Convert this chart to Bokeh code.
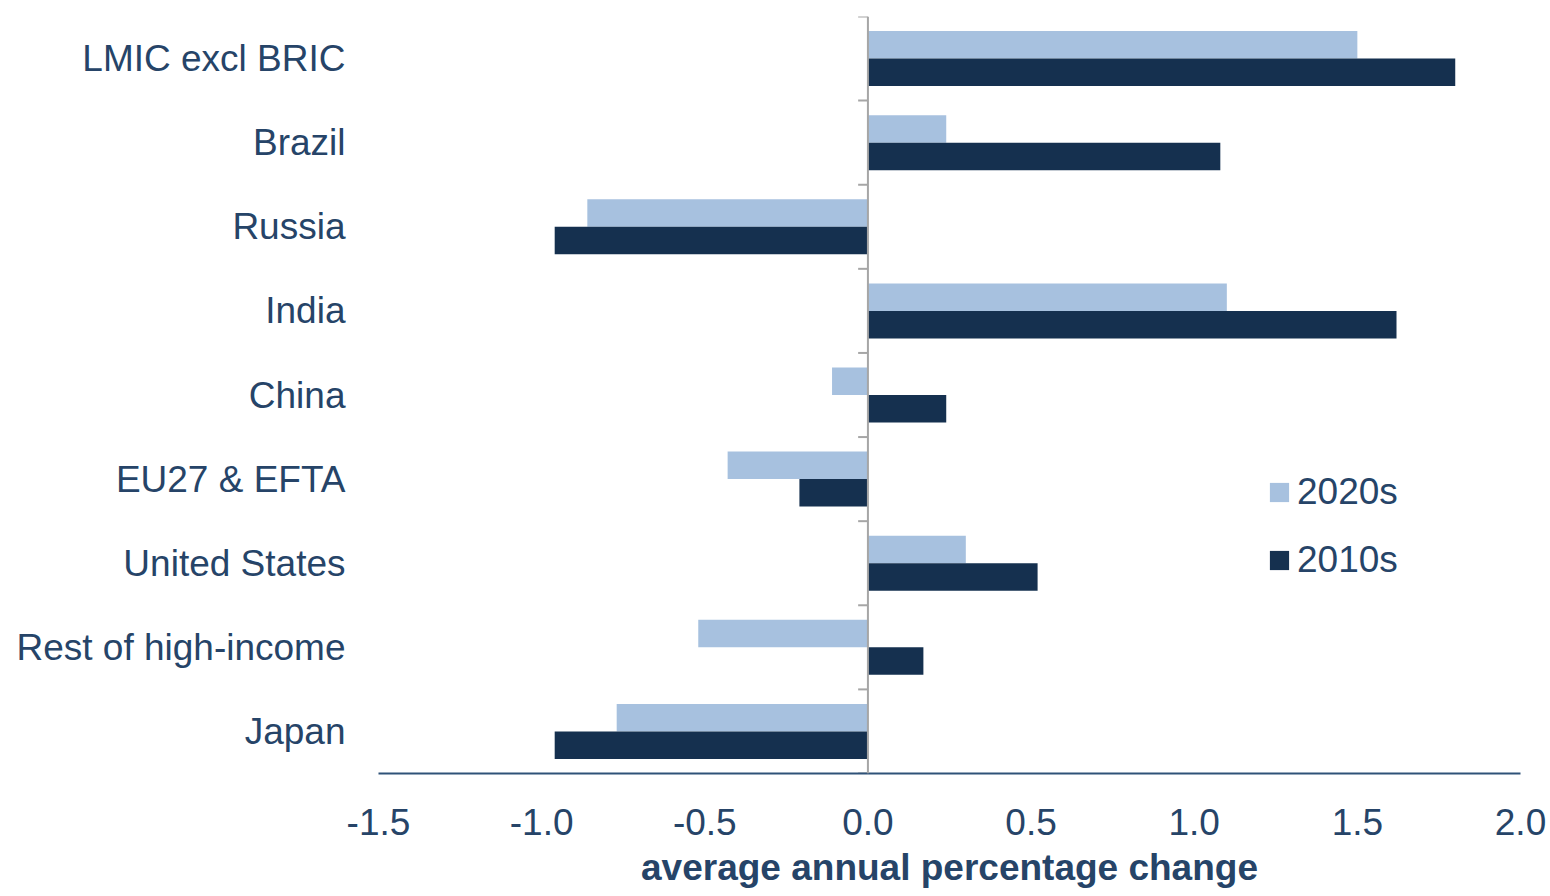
from bokeh.plotting import figure
from bokeh.models import (Range1d, FixedTicker, Span, Legend, LegendItem, ColumnDataSource, Title)
from bokeh.embed import file_html
from bokeh.resources import INLINE

categories = ["LMIC excl BRIC", "Brazil", "Russia", "India", "China",
              "EU27 & EFTA", "United States", "Rest of high-income", "Japan"]
values_2020s = [1.50, 0.24, -0.86, 1.10, -0.11, -0.43, 0.30, -0.52, -0.77]
values_2010s = [1.80, 1.08, -0.96, 1.62, 0.24, -0.21, 0.52, 0.17, -0.96]
x_ticks = [-1.5, -1.0, -0.5, 0.0, 0.5, 1.0, 1.5, 2.0]
series_names = ["2020s", "2010s"]
x_title = "average annual percentage change"

LIGHT = "#A7C1DF"
DARK = "#15304F"
TEXT = "#264468"
AXIS = "#2F5278"
FONT = "Liberation Sans"
FS = "37px"

n = len(categories)
centers = [n - 1 - i + 0.5 for i in range(n)]
bar_h = 0.327

src = ColumnDataSource(dict(
    cat=categories,
    y20=[c + bar_h / 2 for c in centers],
    y10=[c - bar_h / 2 for c in centers],
    v20=values_2020s,
    v10=values_2010s,
))

W, H = 1550, 896
p = figure(width=W, height=H, output_backend="svg", toolbar_location=None,
           x_range=Range1d(x_ticks[0], x_ticks[-1]), y_range=Range1d(0, n),
           min_border_left=378, min_border_right=30,
           min_border_top=16, min_border_bottom=123)
p.outline_line_color = None
p.grid.visible = False
p.background_fill_color = "white"
p.border_fill_color = "white"

r20 = p.hbar(y="y20", left=0, right="v20", height=bar_h, source=src,
             fill_color=LIGHT, line_color=None)
r10 = p.hbar(y="y10", left=0, right="v10", height=bar_h, source=src,
             fill_color=DARK, line_color=None)

# zero axis with tick marks at category boundaries
p.add_layout(Span(location=0, dimension="height", line_color="#A6A6A6", line_width=2))
tick_len = 0.03
bounds = list(range(n + 1))
p.segment(x0=[-tick_len] * len(bounds), x1=[0] * len(bounds), y0=bounds, y1=bounds,
          line_color="#A6A6A6", line_width=2)

# y axis: labels only
ya = p.yaxis[0]
ya.ticker = FixedTicker(ticks=centers)
ya.major_label_overrides = {c: lab for c, lab in zip(centers, categories)}
ya.axis_line_color = None
ya.major_tick_line_color = None
ya.minor_tick_line_color = None
ya.major_label_standoff = 27
ya.major_label_text_font = FONT
ya.major_label_text_font_size = FS
ya.major_label_text_color = TEXT

# x axis
xa = p.xaxis[0]
xa.ticker = FixedTicker(ticks=x_ticks)
xa.major_label_overrides = {t: f"{t:.1f}" for t in x_ticks}
xa.axis_line_color = AXIS
xa.axis_line_width = 2
xa.major_tick_line_color = None
xa.minor_tick_line_color = None
xa.major_label_standoff = 29
xa.major_label_text_font = FONT
xa.major_label_text_font_size = FS
xa.major_label_text_color = TEXT

# axis title as a title panel below the axis
p.add_layout(Title(text=x_title, align="center", text_font=FONT, text_font_size=FS,
                   text_font_style="bold", text_color=TEXT, standoff=15, offset=0),
             "below")

legend = Legend(items=[LegendItem(label=series_names[0], renderers=[r20]),
                       LegendItem(label=series_names[1], renderers=[r10])],
                location=(889, 192))
legend.background_fill_alpha = 0
legend.border_line_color = None
legend.padding = 0
legend.margin = 0
legend.spacing = 26
legend.glyph_width = 24
legend.glyph_height = 24
legend.label_standoff = 6
legend.label_text_font = FONT
legend.label_text_font_size = FS
legend.label_text_color = TEXT
p.add_layout(legend, "center")

open("out.html", "w").write(file_html(p, INLINE))
